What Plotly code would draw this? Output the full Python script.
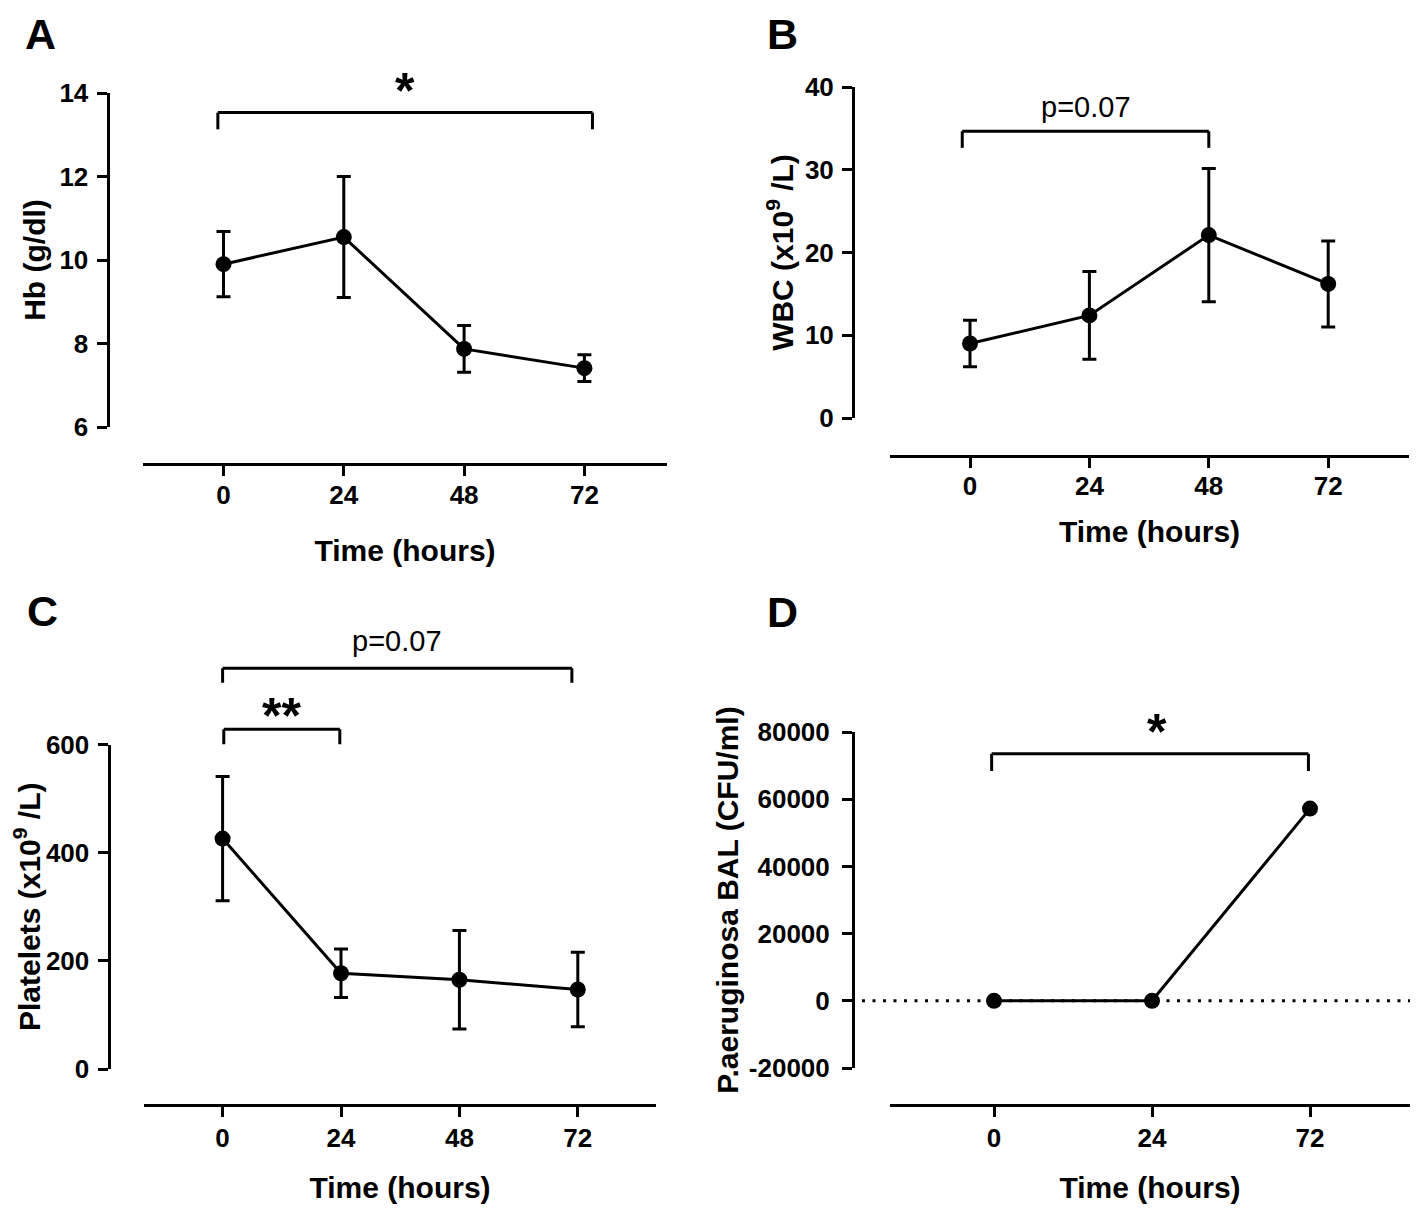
import plotly.graph_objects as go

# ---------------- data ----------------
hours_abc = ["0", "24", "48", "72"]
hours_d = ["0", "24", "72"]

hb_mean = [9.90, 10.55, 7.87, 7.41]
hb_err = [0.78, 1.45, 0.56, 0.32]

wbc_mean = [9.0, 12.4, 22.1, 16.2]
wbc_err = [2.8, 5.3, 8.05, 5.2]

plt_mean = [426, 177, 165, 147]
plt_err = [115, 45, 91, 69]

pa_mean = [0, 0, 57200]

hb_ticks = [6, 8, 10, 12, 14]
wbc_ticks = [0, 10, 20, 30, 40]
plt_ticks = [0, 200, 400, 600]
pa_ticks = [-20000, 0, 20000, 40000, 60000, 80000]
pa_ticklabels = ["-20000", "0", "20000", "40000", "60000", "80000"]

# significance comparisons: (from position, to position, bar level, end level, label)
hb_comp = [(-0.047, 3.067, 13.53, 13.13, "*")]
wbc_comp = [(-0.065, 2.0, 34.65, 32.65, "p=0.07")]
plt_comp = [(0.0, 2.95, 741, 714, "p=0.07"), (0.01, 0.99, 628, 600, "**")]
pa_comp = [(-0.015, 1.99, 73500, 68400, "*")]

# ---------------- layout helpers ----------------
VW, VH = 1418, 1212          # browser window
PAD = 8                      # default page margin around the figure
W, H = VW - 2 * PAD, VH - 2 * PAD
FONT = "Liberation Sans, Arial, Helvetica, sans-serif"
BLACK = "black"


def fx(x):
    return (x - PAD) / W


def fy(y):
    return 1 - (y - PAD) / H


panels = [
    dict(n=1, letter="A", lxy=(40, None), cats=hours_abc, mean=hb_mean, err=hb_err,
         ticks=hb_ticks, ticktext=[str(t) for t in hb_ticks], ylabel="Hb (g/dl)",
         yx=107.5, ytop=93, ybot=427, xline=464, xl=143, xr=667, x0=223.5, step=120.3,
         comp=hb_comp, ystand=3, xstand=30, xtls=-3, ytls=3),
    dict(n=2, letter="B", lxy=(782, None), cats=hours_abc, mean=wbc_mean, err=wbc_err,
         ticks=wbc_ticks, ticktext=[str(t) for t in wbc_ticks], ylabel="WBC (x10<sup>9</sup> /L)",
         yx=853, ytop=87, ybot=418, xline=456, xl=890, xr=1409, x0=970, step=119.4,
         comp=wbc_comp, ystand=1, xstand=20, xtls=-4, ytls=3),
    dict(n=3, letter="C", lxy=(42, 611), cats=hours_abc, mean=plt_mean, err=plt_err,
         ticks=plt_ticks, ticktext=[str(t) for t in plt_ticks], ylabel="Platelets (x10<sup>9</sup> /L)",
         yx=108.5, ytop=744.5, ybot=1069, xline=1105, xl=144, xr=656, x0=222.6, step=118.4,
         comp=plt_comp, ystand=18, xstand=30, xtls=-1, ytls=3),
    dict(n=4, letter="D", lxy=(782, 612), cats=hours_d, mean=pa_mean, err=None,
         ticks=pa_ticks, ticktext=pa_ticklabels, ylabel="P.aeruginosa BAL (CFU/ml)",
         yx=853, ytop=732, ybot=1068, xline=1105, xl=890, xr=1410, x0=994, step=158,
         comp=pa_comp, ystand=0, xstand=30, xtls=-1, ytls=7),
]

fig = go.Figure()
layout = dict(
    width=W, height=H, autosize=False,
    margin=dict(l=0, r=0, t=0, b=0, pad=0, autoexpand=False),
    paper_bgcolor="white", plot_bgcolor="white",
    showlegend=False,
    font=dict(family=FONT, color=BLACK),
)
shapes = []
annotations = []

tickfont = dict(family=FONT, size=26, color=BLACK, weight="bold")
titlefont = dict(family=FONT, size=30, color=BLACK, weight="bold")
letterfont = dict(family=FONT, size=43, color=BLACK, weight="bold")

for p in panels:
    n = p["n"]
    xa, ya = f"x{n}", f"y{n}"
    xrange = [(p["xl"] - p["x0"]) / p["step"], (p["xr"] - p["x0"]) / p["step"]]
    layout[f"xaxis{n}"] = dict(
        domain=[fx(p["xl"]), fx(p["xr"])], anchor="free", position=fy(p["xline"]),
        type="category", categoryorder="array", categoryarray=p["cats"], range=xrange,
        showline=True, linewidth=3, linecolor=BLACK, ticks="outside", ticklen=10,
        tickwidth=3, tickcolor=BLACK, tickfont=tickfont, showgrid=False, zeroline=False,
        ticklabelstandoff=p["xtls"], automargin=False,
        title=dict(text="Time (hours)", font=titlefont, standoff=p["xstand"]),
        fixedrange=True,
    )
    layout[f"yaxis{n}"] = dict(
        domain=[fy(p["ybot"]), fy(p["ytop"])], anchor="free", position=fx(p["yx"]),
        range=[p["ticks"][0], p["ticks"][-1]], tickmode="array", tickvals=p["ticks"],
        ticktext=p["ticktext"], showline=True, linewidth=3, linecolor=BLACK,
        ticks="outside", ticklen=10, tickwidth=3, tickcolor=BLACK, tickfont=tickfont,
        showgrid=False, zeroline=False, ticklabelstandoff=p["ytls"], automargin=False,
        title=dict(text=p["ylabel"], font=titlefont, standoff=p["ystand"]),
        fixedrange=True,
    )
    err = None
    if p["err"] is not None:
        err = dict(type="data", array=p["err"], visible=True, color=BLACK,
                   thickness=3, width=7)
    fig.add_trace(go.Scatter(
        x=p["cats"], y=p["mean"], mode="lines+markers", error_y=err,
        line=dict(color=BLACK, width=3), marker=dict(color=BLACK, size=16),
        xaxis=xa, yaxis=ya, cliponaxis=False, hoverinfo="x+y",
    ))
    lx, ly = p["lxy"]
    if ly is None:   # top row: letter hangs from the top edge of the figure
        annotations.append(dict(
            text=p["letter"], xref="paper", yref="paper", x=fx(lx), y=1.0,
            xanchor="center", yanchor="top", showarrow=False, font=letterfont,
        ))
    else:
        annotations.append(dict(
            text=p["letter"], xref="paper", yref="paper", x=fx(lx), y=fy(ly),
            xanchor="center", yanchor="middle", showarrow=False, font=letterfont,
        ))

# extra invisible axis above panel C for the comparison brackets that sit above its y axis
c = panels[2]
c_scale = (c["ybot"] - c["ytop"]) / (plt_ticks[-1] - plt_ticks[0])  # px per unit
c_top_px = 612
layout["yaxis5"] = dict(
    domain=[fy(c["ytop"]), fy(c_top_px)], anchor="x3",
    range=[plt_ticks[-1], plt_ticks[-1] + (c["ytop"] - c_top_px) / c_scale],
    visible=False, fixedrange=True, automargin=False,
)
fig.add_trace(go.Scatter(x=[None], y=[None], xaxis="x3", yaxis="y5", hoverinfo="skip"))

bracket_axes = {1: ("x1", "y1"), 2: ("x2", "y2"), 3: ("x3", "y5"), 4: ("x4", "y4")}
for p in panels:
    xr_, yr_ = bracket_axes[p["n"]]
    for (a, b, bar, end, label) in p["comp"]:
        line = dict(color=BLACK, width=3)
        for (x0, y0, x1, y1) in [(a, end, a, bar), (a, bar, b, bar), (b, bar, b, end)]:
            shapes.append(dict(type="line", xref=xr_, yref=yr_, x0=x0, y0=y0, x1=x1, y1=y1,
                               line=line, layer="above"))
        xsh = 0
        if label.startswith("p"):
            f = dict(family=FONT, size=29, color=BLACK)
            ysh = 6 if p["n"] == 2 else 9
        else:
            f = dict(family=FONT, size=50, color=BLACK, weight="bold")
            ysh = -8 if label == "*" else -17
            if p["n"] == 4:
                xsh = 7
        annotations.append(dict(
            text=label, xref=xr_, yref=yr_, x=(a + b) / 2, y=bar, xanchor="center",
            yanchor="bottom", showarrow=False, font=f, yshift=ysh, xshift=xsh,
        ))

# dotted zero reference line in panel D
shapes.append(dict(type="line", xref="x4 domain", yref="y4",
                   x0=(862 - 890) / (1410 - 890), x1=1.0, y0=0, y1=0,
                   line=dict(color=BLACK, width=3, dash="3px,7.5px"), layer="below"))

layout["shapes"] = shapes
layout["annotations"] = annotations
fig.update_layout(**layout)
fig.write_html("out.html")
